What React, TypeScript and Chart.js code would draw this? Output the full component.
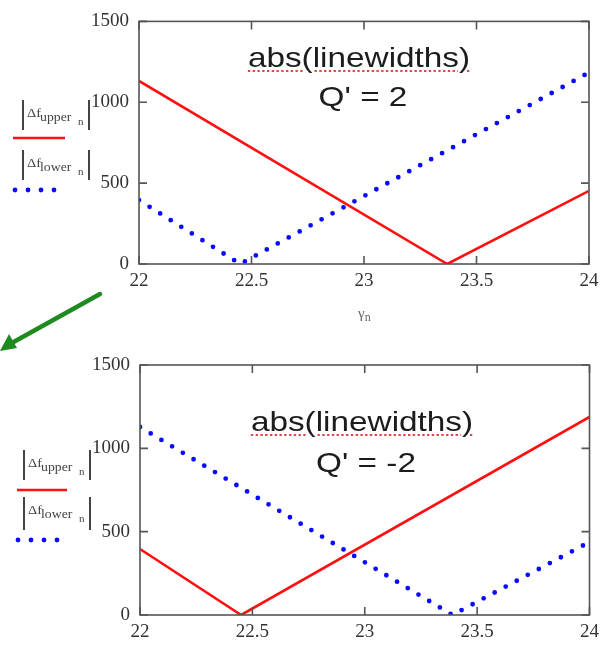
import React, { useEffect, useRef } from 'react';
import { Chart, registerables } from 'chart.js';

Chart.register(...registerables);

// ---- data ----
const xTicks = [22, 22.5, 23, 23.5, 24];
const yTicks = [0, 500, 1000, 1500];

// Q' = 2
const topUpperX = [22, 23.37, 24];
const topUpperY = [1132, 0, 452];
const topLowerX = [22, 22.45, 24];
const topLowerY = [395, 0, 1184];

// Q' = -2
const bottomUpperX = [22, 22.45, 24];
const bottomUpperY = [396, 0, 1188];
const bottomLowerX = [22, 23.39, 24];
const bottomLowerY = [1128, 0, 438];

const titleText = 'abs(linewidths)';
const topQ = "Q' = 2";
const bottomQ = "Q' = -2";

const SERIF = '"Liberation Serif", "Times New Roman", serif';
const SANS = '"Liberation Sans", Arial, sans-serif';

const framePlugin = {
  id: 'frameTicks',
  afterDatasetsDraw(chart: any) {
    const { ctx, chartArea: a, scales } = chart;
    ctx.save();
    ctx.strokeStyle = '#555';
    ctx.lineWidth = 1.6;
    ctx.strokeRect(a.left, a.top, a.right - a.left, a.bottom - a.top);
    const L = 8;
    ctx.beginPath();
    scales.x.ticks.forEach((t: any) => {
      const px = scales.x.getPixelForValue(t.value);
      ctx.moveTo(px, a.top);
      ctx.lineTo(px, a.top + L);
      ctx.moveTo(px, a.bottom);
      ctx.lineTo(px, a.bottom - L);
    });
    scales.y.ticks.forEach((t: any) => {
      const py = scales.y.getPixelForValue(t.value);
      ctx.moveTo(a.left, py);
      ctx.lineTo(a.left + L, py);
      ctx.moveTo(a.right, py);
      ctx.lineTo(a.right - L, py);
    });
    ctx.stroke();
    ctx.restore();
  },
};

function toPoints(xs: number[], ys: number[]) {
  return xs.map((x, i) => ({ x, y: ys[i] }));
}

function makeConfig(
  ux: number[], uy: number[], lx: number[], ly: number[],
  g: { top: number; right: number; yw: number; xh: number }
): any {
  const tickFont = { family: SERIF, size: 19 };
  return {
    type: 'line',
    data: {
      datasets: [
        {
          data: toPoints(ux, uy),
          borderColor: '#ff1010',
          borderWidth: 2.6,
          pointRadius: 0,
          tension: 0,
        },
        {
          data: toPoints(lx, ly),
          borderColor: '#0a0aff',
          borderWidth: 4.8,
          borderDash: [0, 12.5],
          borderCapStyle: 'round',
          pointRadius: 0,
          tension: 0,
        },
      ],
    },
    options: {
      animation: false,
      responsive: false,
      layout: { padding: { top: g.top, right: g.right, left: 0, bottom: 0 } },
      plugins: { legend: { display: false }, tooltip: { enabled: false } },
      scales: {
        x: {
          type: 'linear',
          min: 22,
          max: 24,
          afterBuildTicks: (s: any) => {
            s.ticks = xTicks.map((v) => ({ value: v }));
          },
          afterFit: (s: any) => {
            s.height = g.xh;
          },
          grid: { display: false, drawTicks: false },
          border: { display: false },
          ticks: {
            padding: 6,
            font: tickFont,
            color: '#333',
            autoSkip: false,
            maxRotation: 0,
            callback: (v: any) => String(v),
          },
        },
        y: {
          type: 'linear',
          min: 0,
          max: 1500,
          afterBuildTicks: (s: any) => {
            s.ticks = yTicks.map((v) => ({ value: v }));
          },
          afterFit: (s: any) => {
            s.width = g.yw;
          },
          grid: { display: false, drawTicks: false },
          border: { display: false },
          ticks: {
            padding: 10,
            font: tickFont,
            color: '#333',
            autoSkip: false,
            callback: (v: any) => String(v),
          },
        },
      },
    },
    plugins: [framePlugin],
  };
}

function ChartCanvas(props: {
  top: number; height: number; cfg: () => any;
}) {
  const ref = useRef<HTMLCanvasElement | null>(null);
  useEffect(() => {
    if (!ref.current) return;
    const chart = new Chart(ref.current, props.cfg());
    return () => chart.destroy();
  }, []);
  return (
    <canvas
      ref={ref}
      width={605}
      height={props.height}
      style={{ position: 'absolute', left: 0, top: props.top, width: 605, height: props.height }}
    />
  );
}

function AbsLabel(props: { left: number; top: number; h: number; sub: string }) {
  const { left, top, h, sub } = props;
  return (
    <div
      style={{
        position: 'absolute',
        left,
        top,
        width: 64,
        height: h,
        borderLeft: '2px solid #444',
        borderRight: '2px solid #444',
        fontFamily: SERIF,
        color: '#444',
        whiteSpace: 'nowrap',
      }}
    >
      <span style={{ position: 'absolute', left: 3, top: 6, fontSize: 13, lineHeight: '13px', transform: 'scaleX(1.1)', transformOrigin: 'left' }}>
        Δf
      </span>
      <span style={{ position: 'absolute', left: 16, top: 11, fontSize: 12, lineHeight: '12px', transform: 'scaleX(1.15)', transformOrigin: 'left' }}>
        {sub}
      </span>
      <span style={{ position: 'absolute', left: 54, top: 16, fontSize: 11, lineHeight: '11px' }}>n</span>
    </div>
  );
}

function Title(props: { cx: number; top: number; text: string; underline?: boolean }) {
  return (
    <div
      style={{
        position: 'absolute',
        left: props.cx,
        top: props.top,
        fontFamily: SANS,
        fontSize: 28,
        lineHeight: '28px',
        color: '#1c1c1c',
        whiteSpace: 'nowrap',
        transform: 'translateX(-50%) scaleX(1.19)',
        textDecoration: props.underline ? 'underline dotted #e04848' : 'none',
        textUnderlineOffset: '3px',
        textDecorationThickness: '1.5px',
      }}
    >
      {props.text}
    </div>
  );
}

export default function App() {
  return (
    <div style={{ position: 'absolute', left: 0, top: 0, width: 605, height: 646, background: '#fff', overflow: 'hidden' }}>
      <ChartCanvas
        top={0}
        height={330}
        cfg={() => makeConfig(topUpperX, topUpperY, topLowerX, topLowerY, { top: 14, right: 16, yw: 139, xh: 66 })}
      />
      <ChartCanvas
        top={340}
        height={306}
        cfg={() => makeConfig(bottomUpperX, bottomUpperY, bottomLowerX, bottomLowerY, { top: 25, right: 15, yw: 140, xh: 31 })}
      />

      {/* titles */}
      <Title cx={358.5} top={44} text={titleText} underline />
      <Title cx={362.5} top={83} text={topQ} />
      <Title cx={361.5} top={408} text={titleText} underline />
      <Title cx={366} top={449} text={bottomQ} />

      {/* x axis label of top chart */}
      <div style={{ position: 'absolute', left: 358, top: 306, fontFamily: SERIF, fontSize: 15, color: '#666', whiteSpace: 'nowrap', lineHeight: '15px' }}>
        γ<span style={{ fontSize: 12, position: 'relative', top: 3 }}>n</span>
      </div>

      {/* legends */}
      <AbsLabel left={22} top={100} h={30} sub="upper" />
      <AbsLabel left={22} top={150} h={30} sub="lower" />
      <AbsLabel left={23} top={450} h={30} sub="upper" />
      <AbsLabel left={23} top={497} h={33} sub="lower" />

      <svg width={605} height={646} style={{ position: 'absolute', left: 0, top: 0, pointerEvents: 'none' }}>
        {/* legend line samples */}
        <line x1={13} y1={138} x2={65} y2={138} stroke="#ff1010" strokeWidth={2.6} />
        <line x1={15} y1={190} x2={56} y2={190} stroke="#0a0aff" strokeWidth={4.8} strokeDasharray="0 13" strokeLinecap="round" />
        <line x1={17} y1={490} x2={67} y2={490} stroke="#ff1010" strokeWidth={2.6} />
        <line x1={18} y1={540} x2={58} y2={540} stroke="#0a0aff" strokeWidth={4.8} strokeDasharray="0 13" strokeLinecap="round" />
        {/* green arrow */}
        <line x1={100} y1={294} x2={10} y2={344} stroke="#1f8a1f" strokeWidth={4.5} strokeLinecap="round" />
        <polygon points="0,351 9,334 17,348" fill="#1f8a1f" />
      </svg>
    </div>
  );
}
